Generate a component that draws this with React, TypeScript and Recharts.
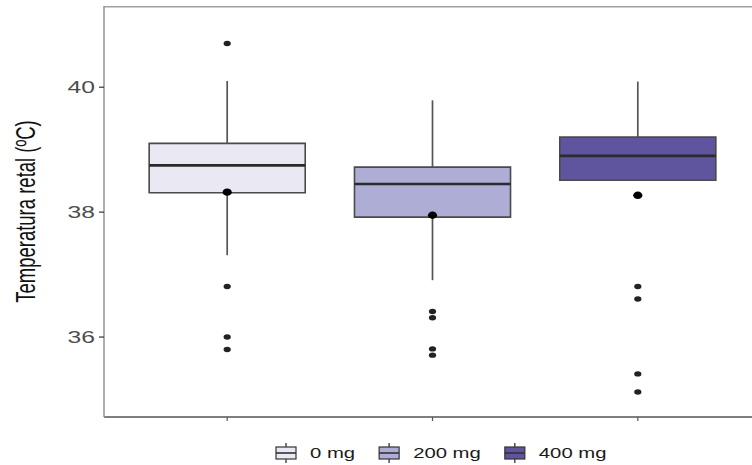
import { ComposedChart, XAxis, YAxis, Scatter, ReferenceArea, ReferenceLine, Legend, CartesianGrid } from 'recharts';

// dose groups and their box-plot statistics (ºC)
const groups = ['0 mg', '200 mg', '400 mg'];
const whiskerLow = [37.31, 36.91, 38.51];
const q1 = [38.31, 37.92, 38.51];
const median = [38.75, 38.45, 38.9];
const q3 = [39.1, 38.72, 39.2];
const whiskerHigh = [40.1, 39.79, 40.09];
const means = [38.32, 37.95, 38.27];
const outliers = [
  [40.7, 36.81, 36.0, 35.8],
  [36.41, 36.31, 35.81, 35.71],
  [36.81, 36.61, 35.41, 35.12],
];
const yTicks = [36, 38, 40];

const fills = ['#EAE8F2', '#ADADD5', '#5F559E'];
const FONT = "'Liberation Sans', Arial, sans-serif";
const STRETCH = 1.45; // the reference is stretched horizontally
const Y_DOMAIN: [number, number] = [34.72, 41.3];
const X_DOMAIN: [number, number] = [0.4, 3.6];
const HALF = 0.38;

const outlierPoints = outliers.flatMap((vals, i) => vals.map(v => ({ x: i + 1, y: v })));
const meanPoints = means.map((v, i) => ({ x: i + 1, y: v }));

const YTick = (props: any) => {
  const { x, y, payload } = props;
  return (
    <text
      transform={`translate(${x},${y}) scale(${STRETCH},1)`}
      textAnchor="end"
      dy="0.36em"
      fontSize={17}
      fontFamily={FONT}
      fill="#4d4d4d"
    >
      {payload.value}
    </text>
  );
};

const YLabel = (props: any) => {
  const vb = props.viewBox || { y: 6, height: 411 };
  const cy = vb.y + vb.height / 2;
  return (
    <text
      transform={`translate(35,${cy}) scale(${STRETCH},1) rotate(-90)`}
      textAnchor="middle"
      fontSize={18.5}
      fontFamily={FONT}
      fill="#111"
    >
      Temperatura retal (ºC)
    </text>
  );
};

const Dot = (rx: number, ry: number, color: string) => (props: any) => {
  const { cx, cy } = props;
  if (cx == null || cy == null) return <g />;
  return <ellipse cx={cx} cy={cy} rx={rx} ry={ry} fill={color} />;
};

// rough text width in em for Liberation Sans
const charW: Record<string, number> = { '0': 0.556, '2': 0.556, '4': 0.556, ' ': 0.278, m: 0.833, g: 0.556 };
const textWidth = (s: string, size: number) =>
  s.split('').reduce((acc, c) => acc + (charW[c] ?? 0.556), 0) * size * STRETCH;

const renderLegend = () => {
  let x = 276;
  const items = groups.map((g, i) => {
    const kx = x;
    const tx = kx + 34;
    x = tx + textWidth(g, 14) + 24;
    return (
      <g key={g}>
        <line x1={kx + 10} x2={kx + 10} y1={5} y2={25} stroke="#333" strokeWidth={1.3} />
        <rect x={kx} y={9} width={20} height={12} fill={fills[i]} stroke="#333" strokeWidth={1.2} />
        <line x1={kx} x2={kx + 20} y1={15} y2={15} stroke="#333" strokeWidth={1.6} />
        <text
          transform={`translate(${tx},15) scale(${STRETCH},1)`}
          dy="0.35em"
          fontSize={14}
          fontFamily={FONT}
          fill="#1a1a1a"
        >
          {g}
        </text>
      </g>
    );
  });
  return (
    <svg width={752} height={30} style={{ display: 'block' }}>
      {items}
    </svg>
  );
};

export default function App() {
  return (
    <div
      style={{
        position: 'fixed',
        left: 0,
        top: 0,
        width: 752,
        height: 465,
        overflow: 'hidden',
        background: '#fff',
      }}
    >
      <ComposedChart width={770} height={465} margin={{ top: 6, right: 9, bottom: 38, left: 0 }}>
        {/* panel top border */}
        <CartesianGrid
          vertical={false}
          horizontalCoordinatesGenerator={(p: any) => [p.offset.top + 0.8]}
          stroke="#a0a0a0"
          strokeWidth={1.6}
          strokeDasharray="0"
        />
        <XAxis
          type="number"
          dataKey="x"
          domain={X_DOMAIN}
          ticks={[1, 2, 3]}
          allowDataOverflow
          height={10}
          tickSize={4}
          tick={() => <g />}
          axisLine={{ stroke: '#555', strokeWidth: 1.4 }}
          tickLine={{ stroke: '#555', strokeWidth: 1.2 }}
        />
        <YAxis
          type="number"
          dataKey="y"
          domain={Y_DOMAIN}
          ticks={yTicks}
          allowDataOverflow
          width={104}
          tickSize={5}
          tickMargin={4}
          tick={YTick}
          axisLine={{ stroke: '#9a9a9a', strokeWidth: 1.6 }}
          tickLine={{ stroke: '#333', strokeWidth: 1.2 }}
          label={{ content: YLabel }}
        />

        {groups.map((g, i) => (
          <ReferenceLine
            key={`wh-${g}`}
            segment={[{ x: i + 1, y: whiskerHigh[i] }, { x: i + 1, y: q3[i] }]}
            stroke="#555"
            strokeWidth={1.7}
          />
        ))}
        {groups.map((g, i) =>
          whiskerLow[i] < q1[i] ? (
            <ReferenceLine
              key={`wl-${g}`}
              segment={[{ x: i + 1, y: q1[i] }, { x: i + 1, y: whiskerLow[i] }]}
              stroke="#555"
              strokeWidth={1.7}
            />
          ) : null
        )}
        {groups.map((g, i) => (
          <ReferenceArea
            key={`box-${g}`}
            x1={i + 1 - HALF}
            x2={i + 1 + HALF}
            y1={q1[i]}
            y2={q3[i]}
            fill={fills[i]}
            fillOpacity={1}
            stroke="#4a4a4a"
            strokeWidth={1.6}
          />
        ))}
        {groups.map((g, i) => (
          <ReferenceLine
            key={`med-${g}`}
            segment={[{ x: i + 1 - HALF, y: median[i] }, { x: i + 1 + HALF, y: median[i] }]}
            stroke="#2b2b2b"
            strokeWidth={2.7}
          />
        ))}

        <Scatter data={outlierPoints} shape={Dot(3.6, 2.7, '#222')} isAnimationActive={false} />
        <Scatter data={meanPoints} shape={Dot(4.6, 3.7, '#000')} isAnimationActive={false} />

        <Legend
          layout="horizontal"
          verticalAlign="middle"
          align="center"
          wrapperStyle={{ top: 438, left: 0, width: 752 }}
          content={renderLegend}
        />
      </ComposedChart>
    </div>
  );
}
